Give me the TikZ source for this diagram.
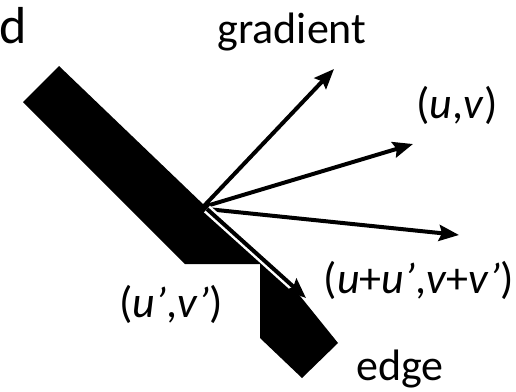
\documentclass[tikz,border=0pt]{standalone}
\usepackage{fontspec}
\setmainfont{Carlito}
\usetikzlibrary{arrows.meta}
\tikzset{
  lbl/.style={inner sep=0pt, anchor=base, font=\fontsize{44}{50}\selectfont},
  vec/.style={line width=4pt, -{Stealth[length=20pt,width=16pt,inset=3pt]}},
}
\begin{document}
\begin{tikzpicture}[x=1pt,y=-1pt]
\useasboundingbox (0,0) rectangle (516,391);
% edge shape
\fill[black] (23,102) -- (59,66) -- (205,206) -- (292,286) -- (338,343) -- (302,378) -- (260,338) -- (260,264) -- (185,264) -- cycle;
\coordinate (O) at (203,207);
\coordinate (O2) at (207,209);
\coordinate (g) at (334,69);
\coordinate (uv) at (413,144);
\coordinate (t) at (459,235);
\coordinate (s) at (306,298);
\draw[vec] (O) -- (g);
\draw[vec] (O) -- (uv);
\draw[vec] (O2) -- (t);
\draw[white, line width=9pt, shorten >=16pt] (O2) -- (s);
\draw[vec] (O2) -- (s);
% labels
\node[lbl, anchor=base east, font=\fontsize{52}{58}\selectfont] (d) at (27,43) {d};
\node[lbl] (grad) at (292,43) {gradient};
\node[lbl] (luv) at (457,118) {(\textit{u},\textit{v})};
\node[lbl] (lsum) at (419,293) {(\textit{u}+\textit{u’},\textit{v}+\textit{v’})};
\node[lbl] (lp) at (171,317) {(\textit{u’},\textit{v’})};
\node[lbl] (edge) at (400,380) {edge};
\end{tikzpicture}
\end{document}
